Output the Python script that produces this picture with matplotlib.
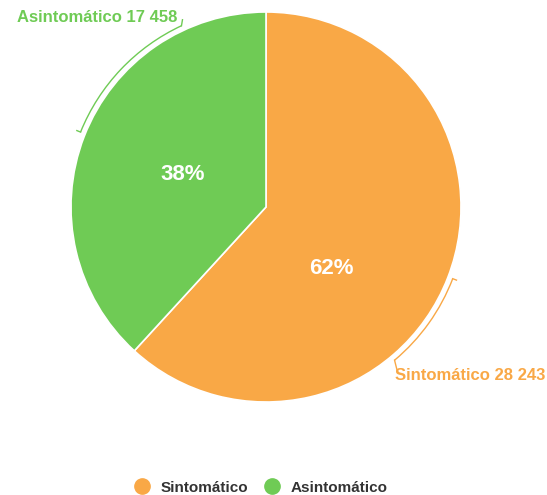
import numpy as np
import matplotlib
matplotlib.use('Agg')
import matplotlib.pyplot as plt
from matplotlib.patches import Arc
from matplotlib.lines import Line2D

plt.rcParams['font.family'] = ['Liberation Sans', 'DejaVu Sans']

# datos
categorias = ['Sintomático', 'Asintomático']
casos = [28243, 17458]
etiquetas = ['Sintomático 28 243', 'Asintomático 17 458']
colores = ['#F9A846', '#6FCB55']

W, H = 547, 495
fig = plt.figure(figsize=(W / 100, H / 100), dpi=100)
ax = fig.add_axes([0, 0, 1, 1])

cx, cy, r = 266, 288, 195
wedges, _ = ax.pie(casos, colors=colores, startangle=90, counterclock=False,
                   center=(cx, cy), radius=r,
                   wedgeprops=dict(edgecolor='white', linewidth=1.2))
ax.set_xlim(0, W)
ax.set_ylim(0, H)
ax.set_aspect('equal')
ax.axis('off')

# porcentajes dentro
total = sum(casos)
ang_pct = [-43, None]
for w, v, a in zip(wedges, casos, ang_pct):
    if a is None:
        a = (w.theta1 + w.theta2) / 2
    t = np.deg2rad(a)
    ax.text(cx + 0.46 * r * np.cos(t), cy + 0.46 * r * np.sin(t),
            '%d%%' % round(100 * v / total), color='white', fontsize=16,
            fontweight='bold', ha='center', va='center')

# lineas de etiqueta tipo corchete
ra = r + 5
arcos = [(-50, -21), (115, 158)]
for (t1, t2), col in zip(arcos, colores):
    ax.add_patch(Arc((cx, cy), 2 * ra, 2 * ra, theta1=t1, theta2=t2,
                     color=col, lw=1.0))
    a = np.deg2rad(t2)
    ax.plot([cx + ra * np.cos(a), cx + (ra + 4) * np.cos(a)],
            [cy + ra * np.sin(a), cy + (ra + 4) * np.sin(a)], color=col, lw=1.0)

a = np.deg2rad(-50)
x0, y0 = cx + ra * np.cos(a), cy + ra * np.sin(a)
ax.plot([x0, x0 + 3], [y0, y0 - 12], color=colores[0], lw=1.0)
ax.text(x0 + 0.5, y0 - 15, etiquetas[0], color=colores[0], fontsize=12,
        fontweight='bold', ha='left', va='center')

a = np.deg2rad(115)
x1, y1 = cx + ra * np.cos(a), cy + ra * np.sin(a)
ax.plot([x1, x1 + 1], [y1, y1 + 6], color=colores[1], lw=1.0)
ax.text(x1 - 4, y1 + 8, etiquetas[1], color=colores[1], fontsize=12,
        fontweight='bold', ha='right', va='center')

# leyenda
handles = [Line2D([], [], marker='o', ls='', markersize=11, color=c) for c in colores]
ax.legend(handles, categorias, loc='lower center', bbox_to_anchor=(0.47, -0.027),
          ncol=2, frameon=False, handletextpad=0.2, columnspacing=0.6,
          labelcolor='#333333', prop=dict(weight='bold', size=11))

fig.savefig('out.png', dpi=100)
